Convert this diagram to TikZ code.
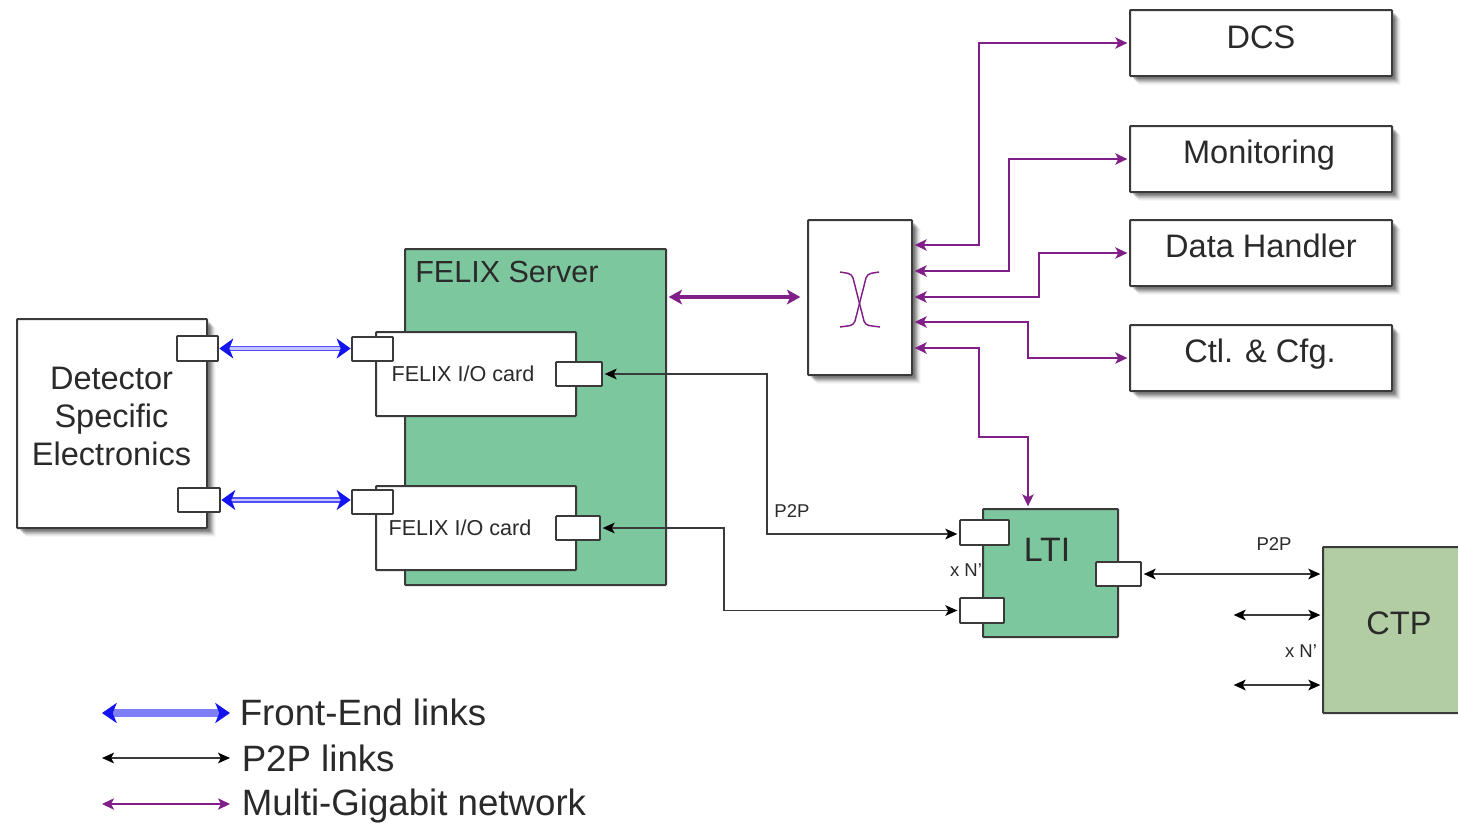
\documentclass[tikz,border=0pt]{standalone}
\usepackage{fontspec}
\setmainfont{Liberation Sans}
\usetikzlibrary{arrows.meta,shadows}
\definecolor{inkc}{HTML}{2A2A2A}
\definecolor{linec}{HTML}{3A3A3A}
\definecolor{mgreen}{HTML}{7DC79F}
\definecolor{ctpgreen}{HTML}{B2CDA3}
\definecolor{netp}{HTML}{7F1F87}
\definecolor{felb}{HTML}{1414F0}
\newcommand\rbox[6][]{%
  \pgfmathsetmacro\cxx{(#3+#5)/2}\pgfmathsetmacro\cyy{(#4+#6)/2}%
  \pgfmathsetmacro\wxx{(#5-#3)*0.75}\pgfmathsetmacro\hyy{(#6-#4)*0.75}%
  \node[rb,#1,minimum width=\wxx pt,minimum height=\hyy pt] (#2) at (\cxx,\cyy) {};}
\tikzset{
  rb/.style={draw=linec,line width=1.5pt,fill=white,inner sep=0pt,outer sep=0pt,rounded corners=0.6pt},
  softshadow/.style={
    general shadow={shadow xshift=6.5pt,shadow yshift=-6.5pt,fill=black,opacity=.05},
    general shadow={shadow xshift=5.5pt,shadow yshift=-5.5pt,fill=black,opacity=.08},
    general shadow={shadow xshift=4.5pt,shadow yshift=-4.5pt,fill=black,opacity=.12},
    general shadow={shadow xshift=3.5pt,shadow yshift=-3.5pt,fill=black,opacity=.16},
    general shadow={shadow xshift=2.5pt,shadow yshift=-2.5pt,fill=black,opacity=.22}},
  portbox/.style={line width=1.4pt},
  big/.style={text=inkc,font=\fontsize{24.4}{28.5}\selectfont,align=center,inner sep=0pt},
  title/.style={text=inkc,font=\fontsize{22.9}{26}\selectfont,inner sep=0pt},
  lti/.style={text=inkc,font=\fontsize{25.4}{28}\selectfont,inner sep=0pt},
  cardtxt/.style={text=inkc,font=\fontsize{16.2}{19}\selectfont,inner sep=0pt},
  small/.style={text=inkc,font=\fontsize{13.9}{16}\selectfont,inner sep=0pt},
  legtxt/.style={text=inkc,font=\fontsize{27.5}{30}\selectfont,inner sep=0pt,anchor=west},
  net/.style={draw=netp,line width=1.2pt,shorten >=2pt,shorten <=2pt,
    {Stealth[length=9pt,width=8.5pt,inset=2.2pt]}-{Stealth[length=9pt,width=8.5pt,inset=2.2pt]}},
  netthick/.style={net,line width=2.6pt,{Stealth[length=10pt,width=11pt,inset=2.5pt]}-{Stealth[length=10pt,width=11pt,inset=2.5pt]}},
  ptp/.style={draw=linec,line width=1.2pt,shorten >=2pt,shorten <=2pt,
    {Stealth[length=9pt,width=8pt,inset=2.2pt,color=black]}-{Stealth[length=9pt,width=8pt,inset=2.2pt,color=black]}},
  fel/.style={draw=felb!75,double=felb!25,line width=1.1pt,double distance=1.8pt,shorten >=1pt,shorten <=1pt,
    {Stealth[length=10.5pt,width=15pt,inset=3pt,color=felb]}-{Stealth[length=10.5pt,width=15pt,inset=3pt,color=felb]}},
  fellegend/.style={draw=felb!55,line width=5.5pt,
    {Stealth[length=11pt,width=15pt,inset=3pt,color=felb]}-{Stealth[length=11pt,width=15pt,inset=3pt,color=felb]}},
}
\begin{document}
\begin{tikzpicture}[x=0.75pt,y=-0.75pt]
\clip (0,0) rectangle (1458,822);
\path[fill=white] (0,0) rectangle (1458,822);
% main boxes
\rbox[softshadow]{det}{17}{319}{207}{528}
\rbox[fill=mgreen]{server}{405}{249}{666}{585}
\rbox{cardA}{376}{332}{576}{416}
\rbox{cardB}{376}{486}{576}{570}
\rbox[softshadow]{sw}{808}{220}{912}{375}
\rbox[softshadow]{dcs}{1130}{10}{1392}{76}
\rbox[softshadow]{mon}{1130}{126}{1392}{192}
\rbox[softshadow]{dh}{1130}{220}{1392}{286}
\rbox[softshadow]{ctl}{1130}{325}{1392}{391}
\rbox[fill=mgreen]{lti}{983}{509}{1118}{637}
\rbox[fill=ctpgreen]{ctp}{1323}{547}{1470}{713}
% ports
\rbox[portbox]{detA}{177}{336}{218}{361}
\rbox[portbox]{detB}{178}{488}{220}{512}
\rbox[portbox]{inA}{352}{337}{393}{361}
\rbox[portbox]{inB}{352}{490}{393}{514}
\rbox[portbox]{outA}{556}{362}{602}{386}
\rbox[portbox]{outB}{556}{516}{600}{540}
\rbox[portbox]{ltiA}{960}{520}{1009}{545}
\rbox[portbox]{ltiB}{960}{598}{1004}{623}
\rbox[portbox]{ltiC}{1096}{562}{1141}{586}
% labels
\node[big] (detl) at (111.5,416.5) {Detector\\Specific\\Electronics};
\node[title,anchor=west] (serverl) at (415,271.5) {FELIX Server};
\node[cardtxt] (cardAl) at (463,374) {FELIX I/O card};
\node[cardtxt] (cardBl) at (460,528) {FELIX I/O card};
\node[big] (dcsl) at (1261,37) {DCS};
\node[big] (monl) at (1259,155) {Monitoring};
\node[big] (dhl) at (1261,246) {Data Handler};
\node[big] (ctll) at (1260,354) {Ctl. \& Cfg.};
\node[lti] (ltil) at (1047,550) {LTI};
\node[big] (ctpl) at (1399,623) {CTP};
\node[small] (pa) at (792,511) {P2P};
\node[small] (pb) at (1274,544) {P2P};
\node[small] (xa) at (966,570) {x N'};
\node[small] (xb) at (1301,651) {x N'};
% anchor coordinates
\coordinate (swa) at (912,245);
\coordinate (swb) at (912,271);
\coordinate (swc) at (912,297);
\coordinate (swd) at (912,322);
\coordinate (swe) at (912,348);
\coordinate (srv) at (666,297);
\coordinate (swin) at (803,297);
\coordinate (ltitop) at (1028,509);
\coordinate (ctpb) at (1323,615);
\coordinate (ctpc) at (1323,685);
\coordinate (freeb) at (1231,615);
\coordinate (freec) at (1231,685);
\coordinate (legA1) at (102,713);
\coordinate (legA2) at (230,713);
\coordinate (legB1) at (102,758);
\coordinate (legB2) at (230,758);
\coordinate (legC1) at (102,804);
\coordinate (legC2) at (230,804);
% switch symbol
\draw[netp,line width=1.1pt,rounded corners=3pt] (840,272) -- (852,274) -- (865,325) -- (880,327);
\draw[netp,line width=1.1pt,rounded corners=3pt] (879,272) -- (867,274) -- (854,325) -- (840,327);
% front-end
\draw[fel] (detA.east) -- (detA.east -| inA.west);
\draw[fel] (detB.east) -- (detB.east -| inB.west);
% network
\draw[netthick] (srv) -- (swin);
\draw[net] (swa) -- (979,245) |- (dcs.west);
\draw[net] (swb) -- (1009,271) |- (mon.west);
\draw[net] (swc) -- (1039,297) |- (dh.west);
\draw[net] (swd) -- (1028,322) |- (ctl.west);
\draw[net] (swe) -- (979,348) -- (979,437) -| (ltitop);
% p2p
\draw[ptp] (outA.east) -| (767,534) -- (767,534 -| ltiA.west);
\draw[ptp] (outB.east) -| (724,570) |- (ltiB.west);
\draw[ptp] (ltiC.east) -- (ltiC.east -| ctp.west);
\draw[ptp] (freeb) -- (ctpb);
\draw[ptp] (freec) -- (ctpc);
% legend
\draw[fellegend] (legA1) -- (legA2);
\draw[ptp,shorten >=0pt,shorten <=0pt] (legB1) -- (legB2);
\draw[net,shorten >=0pt,shorten <=0pt] (legC1) -- (legC2);
\node[legtxt] (lega) at (239.5,712.5) {Front-End links};
\node[legtxt] (legb) at (241.5,758) {P2P links};
\node[legtxt] (legc) at (241.5,806) {Multi-Gigabit network};
\end{tikzpicture}
\end{document}
